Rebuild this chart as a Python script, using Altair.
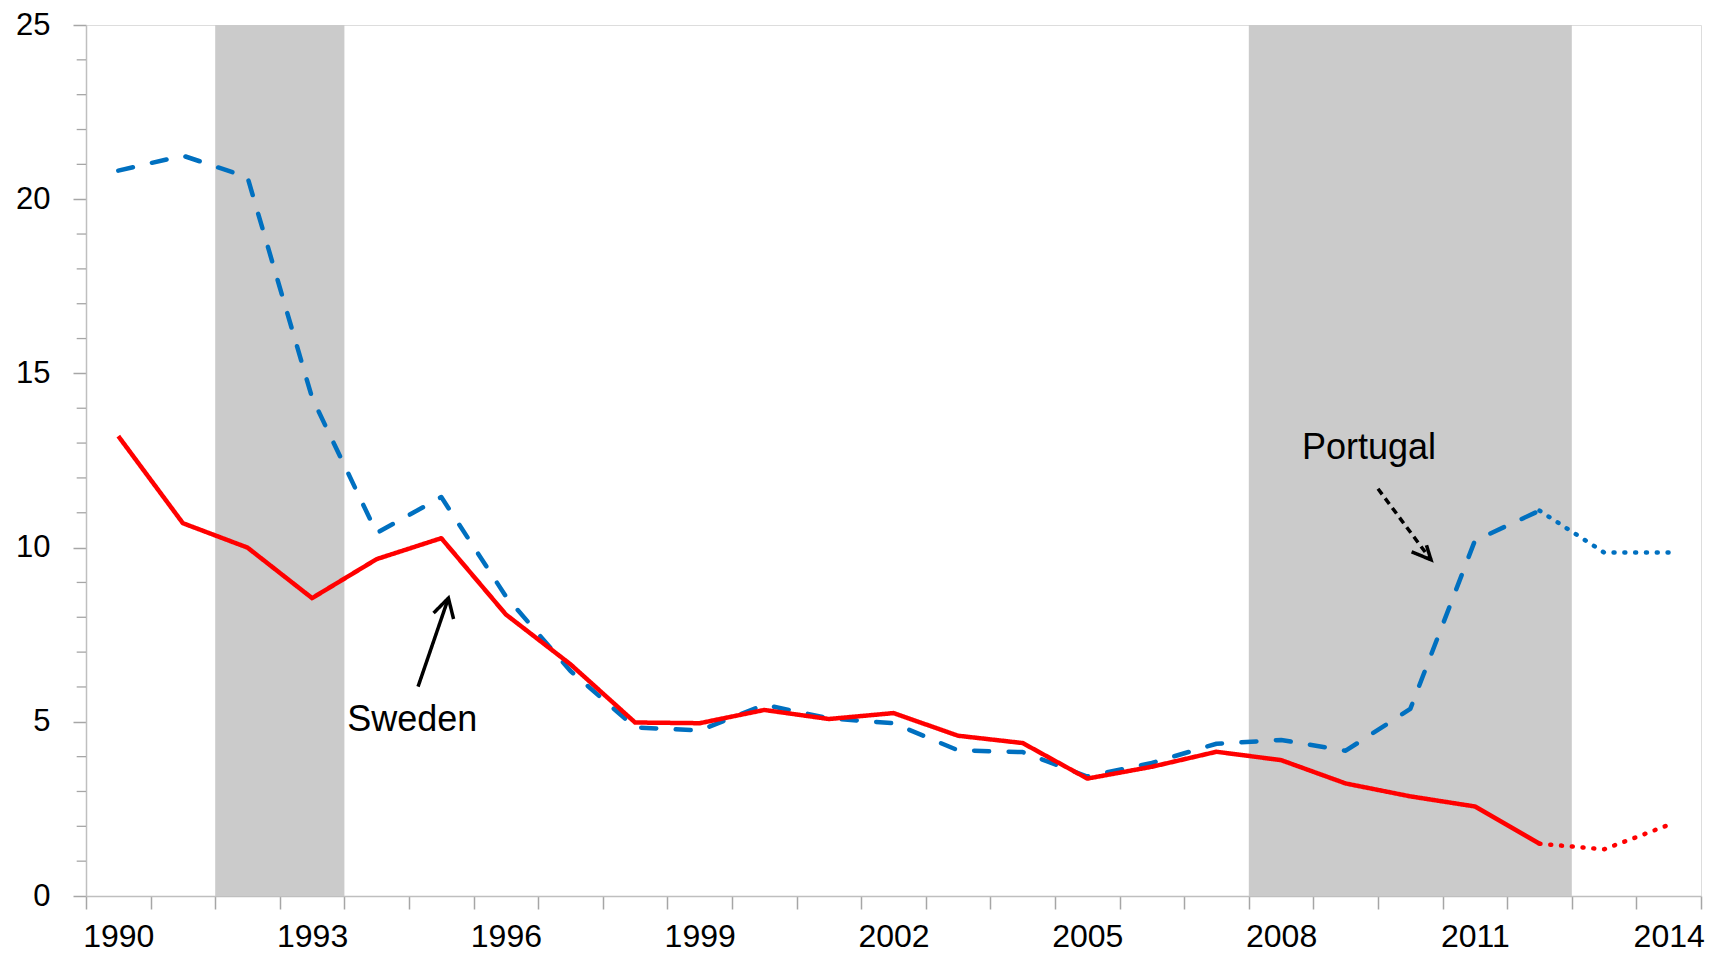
import altair as alt
import pandas as pd

# ---- data ----
years = list(range(1990, 2015))
sweden = [13.2, 10.7, 10.0, 8.55, 9.67, 10.27, 8.08, 6.65, 4.98, 4.96, 5.34, 5.08, 5.25,
          4.6, 4.39, 3.37, 3.71, 4.14, 3.9, 3.23, 2.86, 2.57, 1.5, 1.34, 2.04]
portugal = [20.82, 21.25, 20.63, 14.3, 10.42, 11.45, 8.6, 6.46, 4.84, 4.75, 5.49, 5.1, 4.96,
            4.18, 4.13, 3.43, 3.82, 4.37, 4.48, 4.17, 5.37, 10.2, 11.06, 9.86, 9.86]
last_actual = 2012
recession_start = [1991.5, 2007.5]
recession_end = [1993.5, 2012.5]
y_major = [0, 5, 10, 15, 20, 25]
y_minor = [v for v in range(1, 25) if v % 5]
x_label_years = [1990, 1993, 1996, 1999, 2002, 2005, 2008, 2011, 2014]

# annotation labels (data units)
label_text = ["Sweden", "Portugal"]
label_x = [1994.55, 2009.36]
label_y = [4.75, 12.55]

# arrows (data units): shaft start -> tip, and head barbs
arrow_id = ["sw_shaft", "sw_shaft", "pt_shaft", "pt_shaft",
            "sw_head", "sw_head", "sw_head", "pt_head", "pt_head", "pt_head"]
arrow_ord = [0, 1, 0, 1, 0, 1, 2, 0, 1, 2]
arrow_x = [1994.64, 1995.11, 2009.50, 2010.32,
           1994.88, 1995.11, 1995.19, 2010.02, 2010.32, 2010.25]
arrow_y = [6.01, 8.55, 11.69, 9.65,
           8.12, 8.55, 7.95, 9.88, 9.65, 10.07]

# ---- tables ----
rows = []
for name, vals in [("Sweden", sweden), ("Portugal", portugal)]:
    for yr, v in zip(years, vals):
        if yr <= last_actual:
            rows.append(dict(series=name, seg="main", year=yr, value=v))
        if yr >= last_actual:
            rows.append(dict(series=name, seg="proj", year=yr, value=v))
lines = pd.DataFrame(rows)
rec = pd.DataFrame({"start": recession_start, "end": recession_end})
minor = pd.DataFrame({"v": y_minor})
labels = pd.DataFrame({"text": label_text, "x": label_x, "y": label_y})
arrows = pd.DataFrame({"id": arrow_id, "ord": arrow_ord, "x": arrow_x, "y": arrow_y})

W, H = 1615, 871
FONT = "Liberation Sans"
half_band = W / len(years) / 2

x_ticks = [y - 0.5 for y in years] + [years[-1] + 0.5]
label_expr = "indexof([" + ",".join(str(v) for v in x_label_years) + "], datum.value + 0.5) >= 0 ? format(datum.value + 0.5, 'd') : ''"

x_scale = alt.Scale(domain=[years[0] - 0.5, years[-1] + 0.5], nice=False, zero=False)
y_scale = alt.Scale(domain=[0, 25], nice=False, zero=False)

x_axis = alt.Axis(values=x_ticks, labelExpr=label_expr, title=None, grid=False,
                  tickSize=13, tickColor="#A6A6A6", tickWidth=1.5,
                  domainColor="#BFBFBF", domainWidth=1.5,
                  labelFont=FONT, labelFontSize=32, labelColor="#000000",
                  labelPadding=12, labelOffset=half_band, labelFlush=False,
                  labelOverlap=False, labelBound=False)
y_axis = alt.Axis(values=y_major, title=None, grid=False,
                  tickSize=13, tickColor="#A6A6A6", tickWidth=1.5,
                  domainColor="#BFBFBF", domainWidth=1.5,
                  labelFont=FONT, labelFontSize=31, labelColor="#000000",
                  labelPadding=23, labelFlush=False, labelOverlap=False)

shade = alt.Chart(rec).mark_rect(color="#CBCBCB").encode(
    x=alt.X("start:Q", scale=x_scale, axis=x_axis),
    x2="end:Q",
    y=alt.value(0),
    y2=alt.value(H),
)

minor_ticks = alt.Chart(minor).mark_rule(color="#A6A6A6", strokeWidth=1.3).encode(
    y=alt.Y("v:Q", scale=y_scale, axis=y_axis),
    x=alt.value(-9.3),
    x2=alt.value(0),
)

def series_line(name, seg, color, dash, cap):
    return alt.Chart(lines).transform_filter(
        (alt.datum.series == name) & (alt.datum.seg == seg)
    ).mark_line(color=color, strokeWidth=4.5, strokeDash=dash, strokeCap=cap,
                strokeJoin="round").encode(
        x=alt.X("year:Q", scale=x_scale, axis=x_axis),
        y=alt.Y("value:Q", scale=y_scale, axis=y_axis),
        order="year:Q",
    )

pt_main = series_line("Portugal", "main", "#0070C0", [15, 19.5], "round")
pt_proj = series_line("Portugal", "proj", "#0070C0", [1, 9.8], "round")
sw_main = series_line("Sweden", "main", "#FF0000", [1, 0], "butt")
sw_proj = series_line("Sweden", "proj", "#FF0000", [1, 9.8], "round")

def arrow_part(ident, dash):
    return alt.Chart(arrows).transform_filter(alt.datum.id == ident).mark_line(
        color="#000000", strokeWidth=3.5, strokeDash=dash, strokeJoin="miter"
    ).encode(
        x=alt.X("x:Q", scale=x_scale, axis=x_axis),
        y=alt.Y("y:Q", scale=y_scale, axis=y_axis),
        order="ord:Q",
    )

sw_shaft = arrow_part("sw_shaft", [1, 0])
sw_head = arrow_part("sw_head", [1, 0])
pt_shaft = arrow_part("pt_shaft", [7, 5])
pt_head = arrow_part("pt_head", [1, 0])

texts = alt.Chart(labels).mark_text(font=FONT, fontSize=36, color="#000000",
                                    align="center", baseline="alphabetic").encode(
    x=alt.X("x:Q", scale=x_scale, axis=x_axis),
    y=alt.Y("y:Q", scale=y_scale, axis=y_axis),
    text="text:N",
)

chart = alt.layer(
    shade, minor_ticks, pt_main, pt_proj, sw_main, sw_proj,
    sw_shaft, sw_head, pt_shaft, pt_head, texts
).properties(
    width=W, height=H,
    autosize=alt.AutoSizeParams(type="none"),
    padding={"left": 78, "top": 17, "right": 10, "bottom": 58},
).configure_view(stroke=None).configure(background="#FFFFFF")

chart.save("out.html", embed_options={"renderer": "svg", "actions": False})
